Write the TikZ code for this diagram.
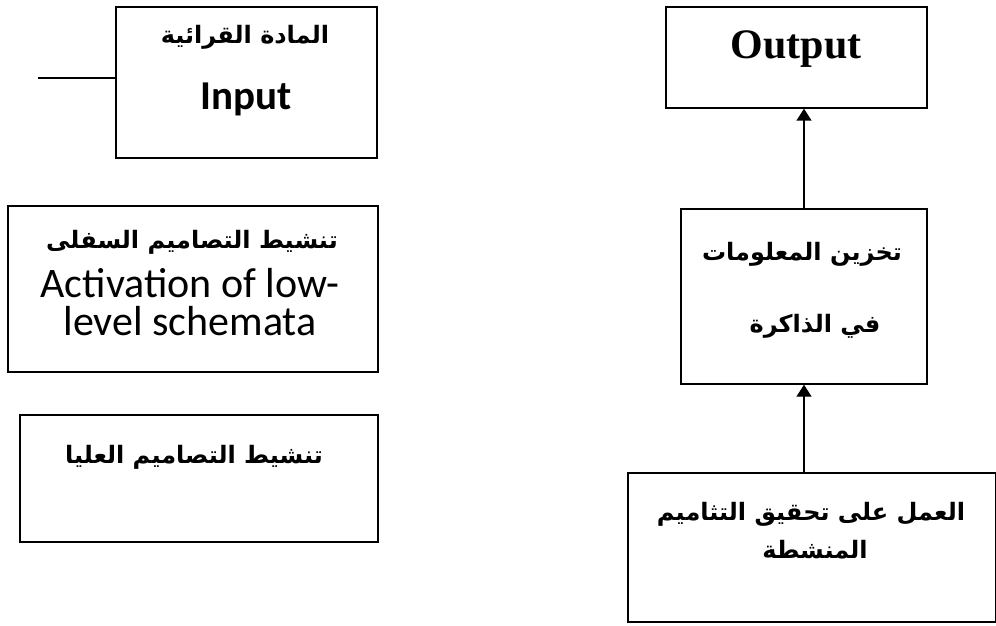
\documentclass[tikz,border=0pt]{standalone}
\usepackage{fontspec}
\setmainfont{Liberation Serif}
\newfontfamily\calibri{Carlito}
\newfontfamily\arabicfont[Script=Arabic]{DejaVu Sans}
\TeXXeTstate=1
\usetikzlibrary{
  arrows.meta,
  positioning,
  calc
}

\begin{document}
\begin{tikzpicture}[x=1pt, y=1pt,
  box/.style={draw, line width=1.4pt, inner sep=0pt},
  arrow/.style={-{Triangle[length=12pt, width=15pt]}, line width=1.4pt},
  artext/.style={font=\arabicfont\bfseries\fontsize{24}{28}\selectfont, anchor=base, inner sep=0pt},
  entext/.style={font=\calibri\fontsize{42}{38}\selectfont, anchor=base, inner sep=0pt}
]
  \useasboundingbox (0,0) rectangle (996,625);

  % --- Left column ---
  \node[box, minimum width=261pt, minimum height=151pt] (input) at (246.5,542.5) {};
  \node[box, minimum width=370pt, minimum height=166pt] (low) at (193,336) {};
  \node[box, minimum width=358pt, minimum height=127pt] (high) at (199,146.5) {};

  \node[artext] (inputar) at (245,581) {\beginR المادة القرائية\endR};
  \node[entext, font=\calibri\bfseries\fontsize{41}{38}\selectfont] (inputen) at (246,515) {Input};

  \node[artext] (lowar) at (192,377) {\beginR تنشيط التصاميم السفلى\endR};
  \node[entext] (lowen1) at (190,328) {Activation of low-};
  \node[entext] (lowen2) at (190,290) {level schemata};

  \node[artext] (highar) at (194,162) {\beginR تنشيط التصاميم العليا\endR};

  % --- Right column ---
  \node[box, minimum width=261pt, minimum height=101pt] (output) at (796.5,567.5) {};
  \node[box, minimum width=246pt, minimum height=175pt] (store) at (804,328.5) {};
  \node[box, minimum width=368pt, minimum height=149pt] (act) at (812,77.5) {};

  \node[anchor=base, inner sep=0pt, font=\bfseries\fontsize{42}{44}\selectfont] (outputen) at (796,566) {Output};

  \node[artext] (storear1) at (802,365) {\beginR تخزين المعلومات\endR};
  \node[artext] (storear2) at (815,293) {\beginR في الذاكرة\endR};

  \node[artext] (actar1) at (811,105) {\beginR العمل على تحقيق التثاميم\endR};
  \node[artext] (actar2) at (815,67) {\beginR المنشطة\endR};

  % --- Connectors ---
  \coordinate (feed) at (38,547);
  \draw[line width=1.4pt] (feed) -- (feed -| input.west);
  \draw[arrow] (act.north -| store) -- (store.south);
  \draw[arrow] (store.north) -- (store.north |- output.south);
\end{tikzpicture}
\end{document}
